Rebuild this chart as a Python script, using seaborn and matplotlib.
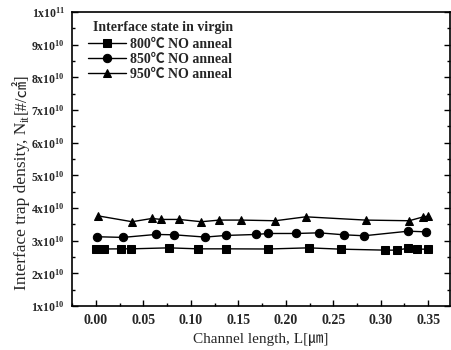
import numpy as np
import pandas as pd
import matplotlib
matplotlib.use("Agg")
import matplotlib.pyplot as plt
import seaborn as sns
from matplotlib.ticker import FixedLocator, MultipleLocator, FixedFormatter

# ---- data ----
x_800 = [0.000, 0.0085, 0.026, 0.037, 0.077, 0.107, 0.137, 0.181, 0.224, 0.258, 0.305, 0.317, 0.329, 0.338, 0.350]
y_800 = [2.745, 2.745, 2.75, 2.75, 2.78, 2.75, 2.75, 2.745, 2.78, 2.74, 2.71, 2.71, 2.77, 2.74, 2.74]
x_850 = [0.001, 0.0285, 0.063, 0.082, 0.115, 0.137, 0.169, 0.181, 0.211, 0.235, 0.261, 0.2825, 0.329, 0.348]
y_850 = [3.12, 3.10, 3.19, 3.18, 3.11, 3.16, 3.19, 3.22, 3.22, 3.24, 3.18, 3.15, 3.29, 3.27]
x_950 = [0.002, 0.038, 0.059, 0.0685, 0.0875, 0.111, 0.130, 0.153, 0.189, 0.221, 0.284, 0.330, 0.345, 0.350]
y_950 = [3.76, 3.58, 3.68, 3.65, 3.65, 3.58, 3.63, 3.63, 3.61, 3.73, 3.63, 3.61, 3.73, 3.75]
series_names = ["800\u2103 NO anneal", "850\u2103 NO anneal", "950\u2103 NO anneal"]
legend_title = "Interface state in virgin"
y_ticks = [1, 2, 3, 4, 5, 6, 7, 8, 9, 10]
y_tick_labels = ["1x10$^{10}$", "2x10$^{10}$", "3x10$^{10}$", "4x10$^{10}$", "5x10$^{10}$",
                 "6x10$^{10}$", "7x10$^{10}$", "8x10$^{10}$", "9x10$^{10}$", "1x10$^{11}$"]
x_ticks = [0.00, 0.05, 0.10, 0.15, 0.20, 0.25, 0.30, 0.35]

frames = []
for name, xs, ys in zip(series_names, [x_800, x_850, x_950], [y_800, y_850, y_950]):
    frames.append(pd.DataFrame({"L": xs, "N": np.array(ys) * 1e10, "series": name}))
df = pd.concat(frames, ignore_index=True)

sns.set_style("ticks")
plt.rcParams["font.family"] = ["Liberation Serif", "Noto Sans CJK KR"]
plt.rcParams["mathtext.fontset"] = "custom"
plt.rcParams["mathtext.rm"] = "Liberation Serif:bold"
plt.rcParams["mathtext.bf"] = "Liberation Serif:bold"
plt.rcParams["mathtext.it"] = "Liberation Serif:bold"

fig = plt.figure(figsize=(4.52, 3.5), dpi=100)
ax = fig.add_axes([72/452, 44/350, 378/452, 294/350])

sns.lineplot(data=df, x="L", y="N", hue="series", style="series",
             palette=["black"]*3, markers={series_names[0]: "s", series_names[1]: "o", series_names[2]: "^"},
             dashes=False, markersize=6, linewidth=1.0, markeredgecolor="black",
             ax=ax, sort=True, estimator=None)

ax.set_xlim(-0.0253, 0.373)
ax.set_ylim(1e10, 1e11)
ax.yaxis.set_major_locator(FixedLocator([v*1e10 for v in y_ticks]))
ax.yaxis.set_major_formatter(FixedFormatter(y_tick_labels))
ax.yaxis.set_minor_locator(MultipleLocator(0.5e10))
ax.xaxis.set_major_locator(FixedLocator(x_ticks))
ax.xaxis.set_major_formatter(plt.FuncFormatter(lambda v, p: f"{v:.2f}"))
ax.xaxis.set_minor_locator(MultipleLocator(0.025))
ax.tick_params(which="both", direction="in", right=True, top=False, width=1.0, color="black")
ax.tick_params(which="major", length=4)
ax.tick_params(which="minor", length=2)
ax.tick_params(axis="y", labelsize=8.5, pad=5)
ax.tick_params(axis="x", labelsize=10, pad=6)
for lab in ax.get_xticklabels() + ax.get_yticklabels():
    lab.set_fontweight("bold")
for sp in ax.spines.values():
    sp.set_linewidth(1.2)
    sp.set_color("black")

ax.set_xlabel("Channel length, L[\u339b]", fontsize=11, labelpad=4)
ax.set_ylabel("")

# y label composed of pieces (subscript + CJK unit glyph)
t1 = fig.text(30/452, 60/350, "Interface trap density, N", rotation=90,
              ha="right", va="bottom", fontsize=12.5)
t2 = ax.annotate("it", xy=(1, 1), xycoords=t1, xytext=(1.5, 0), textcoords="offset points",
                 rotation=90, ha="right", va="bottom", fontsize=8.5, annotation_clip=False)
t3 = ax.annotate("[#/\u33a0]", xy=(1, 1), xycoords=(t1, t2), xytext=(0, 0.5), textcoords="offset points",
                 rotation=90, ha="right", va="bottom", fontsize=12, annotation_clip=False)

# legend title as separate text, legend entries below
ax.text(0.0556, 0.946, legend_title, transform=ax.transAxes, ha="left", va="center",
        fontsize=10, fontweight="bold")
leg = ax.legend(loc="upper left", bbox_to_anchor=(0.035, 0.92), frameon=False,
                fontsize=10, handlelength=2.7, borderaxespad=0,
                labelspacing=0.12, handletextpad=0.3, borderpad=0.2)
for t in leg.get_texts():
    t.set_fontweight("bold")

fig.savefig("out.png", dpi=100)
